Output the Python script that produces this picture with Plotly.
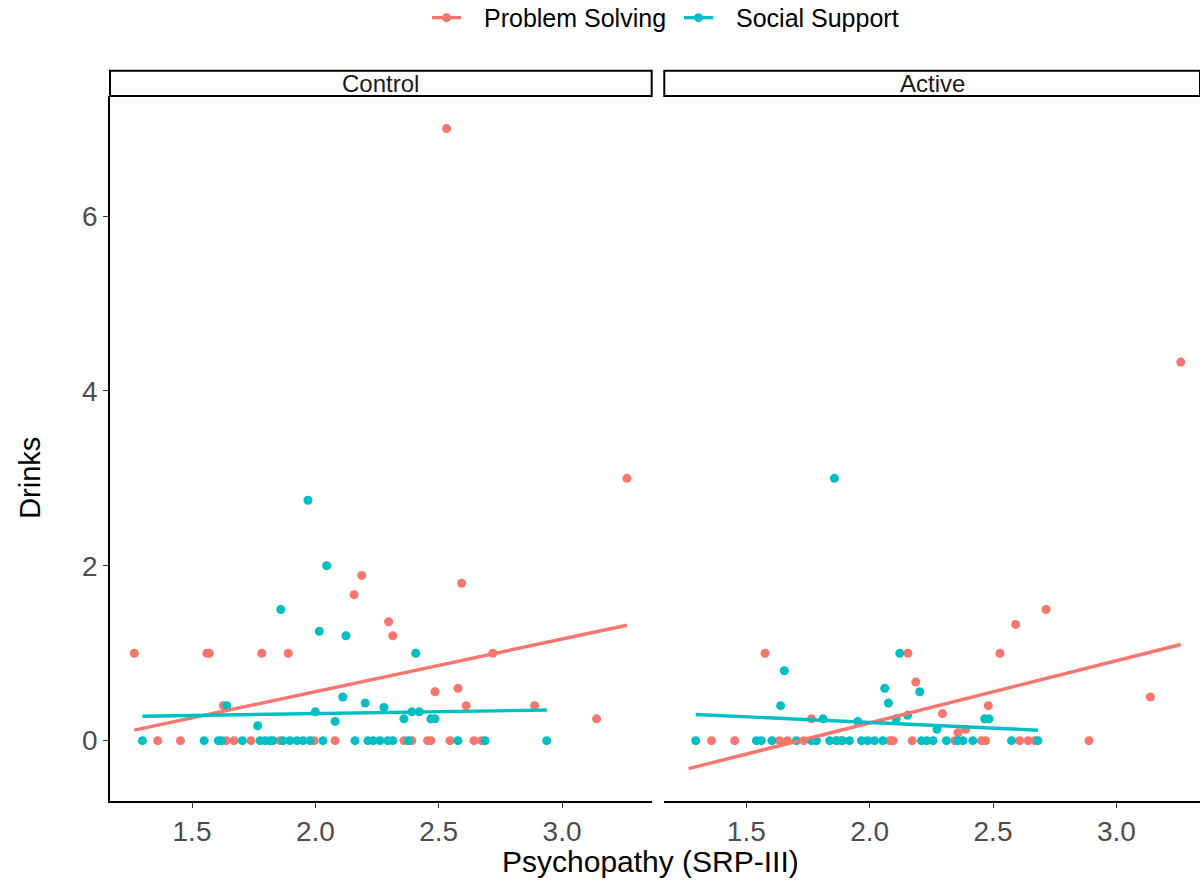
import plotly.graph_objects as go

RED = "#F8766D"
TEAL = "#00BFC4"

# ---------------- data ----------------
ctrl_ps_x = [2.532, 3.263, 2.188, 2.157, 2.297, 2.314, 1.266, 1.560, 1.570, 1.783, 1.890,
             2.593, 2.719, 2.485, 2.578, 2.611, 2.889, 3.140, 1.627,
             1.361, 1.453, 1.638, 1.670, 1.739, 1.857, 1.995, 2.080, 2.359, 2.391,
             2.455, 2.468, 2.546, 2.643, 2.674]
ctrl_ps_y = [7.0, 3.0, 1.89, 1.67, 1.36, 1.2, 1.0, 1.0, 1.0, 1.0, 1.0,
             1.8, 1.0, 0.56, 0.6, 0.4, 0.4, 0.25, 0.4,
             0, 0, 0, 0, 0, 0, 0, 0, 0, 0,
             0, 0, 0, 0, 0]

ctrl_ss_x = [1.970, 2.046, 1.860, 2.016, 2.124, 2.111, 2.202, 2.278, 1.641, 2.000, 2.080,
             1.766, 2.407, 2.391, 2.421, 2.359, 2.468, 2.485,
             1.299, 1.549, 1.607, 1.620, 1.704, 1.776, 1.796, 1.816, 1.828, 1.869,
             1.897, 1.926, 1.950, 1.978, 2.031, 2.161, 2.213, 2.234, 2.262, 2.294,
             2.314, 2.377, 2.578, 2.688, 2.938]
ctrl_ss_y = [2.75, 2.0, 1.5, 1.25, 1.2, 0.5, 0.43, 0.38, 0.4, 0.33, 0.22,
             0.17, 1.0, 0.33, 0.33, 0.25, 0.25, 0.25,
             0, 0, 0, 0, 0, 0, 0, 0, 0, 0,
             0, 0, 0, 0, 0, 0, 0, 0, 0, 0,
             0, 0, 0, 0, 0]

act_ps_x = [3.261, 1.576, 1.764, 2.155, 2.187, 2.715, 2.592, 2.528, 2.481, 2.295, 2.358,
            2.389, 3.138, 2.889,
            1.359, 1.453, 1.635, 1.667, 1.733, 1.865, 1.885, 2.081, 2.095, 2.172,
            2.345, 2.453, 2.470, 2.608, 2.642, 2.669]
act_ps_y = [4.33, 1.0, 0.25, 1.0, 0.67, 1.5, 1.33, 1.0, 0.4, 0.31, 0.09,
            0.13, 0.5, 0,
            0, 0, 0, 0, 0, 0, 0, 0, 0, 0,
            0, 0, 0, 0, 0, 0]

act_ss_x = [1.857, 1.654, 1.639, 1.811, 1.952, 2.061, 2.076, 2.122, 2.203, 2.107, 2.154,
            2.273, 2.466, 2.484,
            1.295, 1.541, 1.561, 1.604, 1.703, 1.764, 1.784, 1.838, 1.866, 1.890,
            1.918, 1.967, 1.992, 2.020, 2.053, 2.210, 2.231, 2.257, 2.311, 2.357,
            2.378, 2.418, 2.575, 2.682]
act_ss_y = [3.0, 0.8, 0.4, 0.25, 0.22, 0.6, 0.43, 1.0, 0.56, 0.25, 0.29,
            0.13, 0.25, 0.25,
            0, 0, 0, 0, 0, 0, 0, 0, 0, 0,
            0, 0, 0, 0, 0, 0, 0, 0, 0, 0,
            0, 0, 0, 0]

# fitted (lm) lines, endpoints
ctrl_ps_fit_x = [1.266, 3.263]
ctrl_ps_fit_y = [0.12, 1.32]
ctrl_ss_fit_x = [1.299, 2.938]
ctrl_ss_fit_y = [0.28, 0.35]
act_ps_fit_x = [1.266, 3.261]
act_ps_fit_y = [-0.32, 1.10]
act_ss_fit_x = [1.295, 2.682]
act_ss_fit_y = [0.30, 0.12]

panels = ["Control", "Active"]
groups = ["Problem Solving", "Social Support"]
x_ticks = [1.5, 2.0, 2.5, 3.0]
x_tick_labels = ["1.5", "2.0", "2.5", "3.0"]
y_ticks = [0, 2, 4, 6]
y_tick_labels = ["0", "2", "4", "6"]

# ---------------- figure ----------------
fig = go.Figure()
MS = 9
LW = 3.4
FONT = "Liberation Sans, Arial, sans-serif"

def pts(x, y, color, xa, ya):
    fig.add_trace(go.Scatter(x=x, y=y, mode="markers", xaxis=xa, yaxis=ya,
                             marker=dict(color=color, size=MS, line=dict(width=0)),
                             showlegend=False, hoverinfo="x+y"))

def fit(x, y, color, xa, ya):
    fig.add_trace(go.Scatter(x=x, y=y, mode="lines", xaxis=xa, yaxis=ya,
                             line=dict(color=color, width=LW),
                             showlegend=False, hoverinfo="skip"))

pts(ctrl_ps_x, ctrl_ps_y, RED, "x", "y")
pts(ctrl_ss_x, ctrl_ss_y, TEAL, "x", "y")
fit(ctrl_ps_fit_x, ctrl_ps_fit_y, RED, "x", "y")
fit(ctrl_ss_fit_x, ctrl_ss_fit_y, TEAL, "x", "y")

pts(act_ps_x, act_ps_y, RED, "x2", "y2")
pts(act_ss_x, act_ss_y, TEAL, "x2", "y2")
fit(act_ps_fit_x, act_ps_fit_y, RED, "x2", "y2")
fit(act_ss_fit_x, act_ss_fit_y, TEAL, "x2", "y2")

W, H = 1200, 881
ML, MR, MT, MB = 110, 0, 96.3, 80
PW = W - ML - MR
PH = H - MT - MB

ctrl_right = 651.7
act_left = 664.3
dom1 = [0, (ctrl_right - ML) / PW]
dom2 = [(act_left - ML) / PW, 1]

x_lo = 1.1676
px_per_unit = 246.7
x1_hi = x_lo + (ctrl_right - ML) / px_per_unit
x2_hi = x_lo + (W - act_left) / px_per_unit

y_range = [-0.69, 7.373]

tickfont = dict(family=FONT, size=28, color="#4D4D4D")
axis_common = dict(showgrid=False, zeroline=False, showline=True, linecolor="black",
                   linewidth=1.5, ticks="outside", ticklen=5, tickwidth=1.2,
                   tickcolor="#333333", tickfont=tickfont)

fig.update_layout(
    width=W, height=H,
    margin=dict(l=ML, r=MR, t=MT, b=MB),
    paper_bgcolor="white", plot_bgcolor="white",
    font=dict(family=FONT, color="black"),
    xaxis=dict(domain=dom1, range=[x_lo, x1_hi], tickvals=x_ticks, ticktext=x_tick_labels,
               anchor="y", **axis_common),
    xaxis2=dict(domain=dom2, range=[x_lo, x2_hi], tickvals=x_ticks, ticktext=x_tick_labels,
                anchor="y2", **axis_common),
    yaxis=dict(range=y_range, tickvals=y_ticks, ticktext=y_tick_labels, anchor="x",
               **axis_common),
    yaxis2=dict(range=y_range, anchor="x2", showgrid=False, zeroline=False,
                showline=False, showticklabels=False, ticks="", matches="y"),
    showlegend=False,
)

# pixel -> paper helpers (for legend / strips / titles only)
def px_x(px):
    return (px - ML) / PW

def px_y(py):
    return (H - MB - py) / PH

# legend (top, horizontal): key = short line with a dot, then the label
legend_y = 18
legend_keys = [(432, 461, RED, 482), (684, 713, TEAL, 734)]
for (k0, k1, col, tx), name in zip(legend_keys, groups):
    fig.add_shape(type="line", xref="paper", yref="paper",
                  x0=px_x(k0), x1=px_x(k1), y0=px_y(legend_y), y1=px_y(legend_y),
                  line=dict(color=col, width=LW))
    c = (k0 + k1) / 2
    r = MS / 2
    fig.add_shape(type="circle", xref="paper", yref="paper",
                  x0=px_x(c - r), x1=px_x(c + r),
                  y0=px_y(legend_y + r), y1=px_y(legend_y - r),
                  line=dict(width=0), fillcolor=col)
    fig.add_annotation(xref="paper", yref="paper", x=px_x(tx), y=px_y(legend_y),
                       text=name, showarrow=False, xanchor="left", yanchor="middle",
                       font=dict(family=FONT, size=25, color="black"))

# facet strips
strip_top = 1 + (MT - 71) / PH
for xr, label in zip(["x domain", "x2 domain"], panels):
    fig.add_shape(type="rect", xref=xr, yref="y domain", x0=0, x1=1, y0=1, y1=strip_top,
                  line=dict(color="black", width=2), fillcolor="white", layer="above")
    fig.add_annotation(xref=xr, yref="y domain", x=0.5, y=(1 + strip_top) / 2,
                       text=label, showarrow=False,
                       font=dict(family=FONT, size=24, color="#1A1A1A"), yanchor="middle")

# axis titles
fig.add_annotation(xref="paper", yref="paper", x=px_x(650), y=px_y(861),
                   text="Psychopathy (SRP-III)", showarrow=False,
                   font=dict(family=FONT, size=30, color="black"),
                   yanchor="middle", xanchor="center")
fig.add_annotation(xref="paper", yref="paper", x=px_x(30), y=px_y(478),
                   text="Drinks", showarrow=False, textangle=-90,
                   font=dict(family=FONT, size=29, color="black"),
                   xanchor="center", yanchor="middle")

fig.write_html("out.html")
